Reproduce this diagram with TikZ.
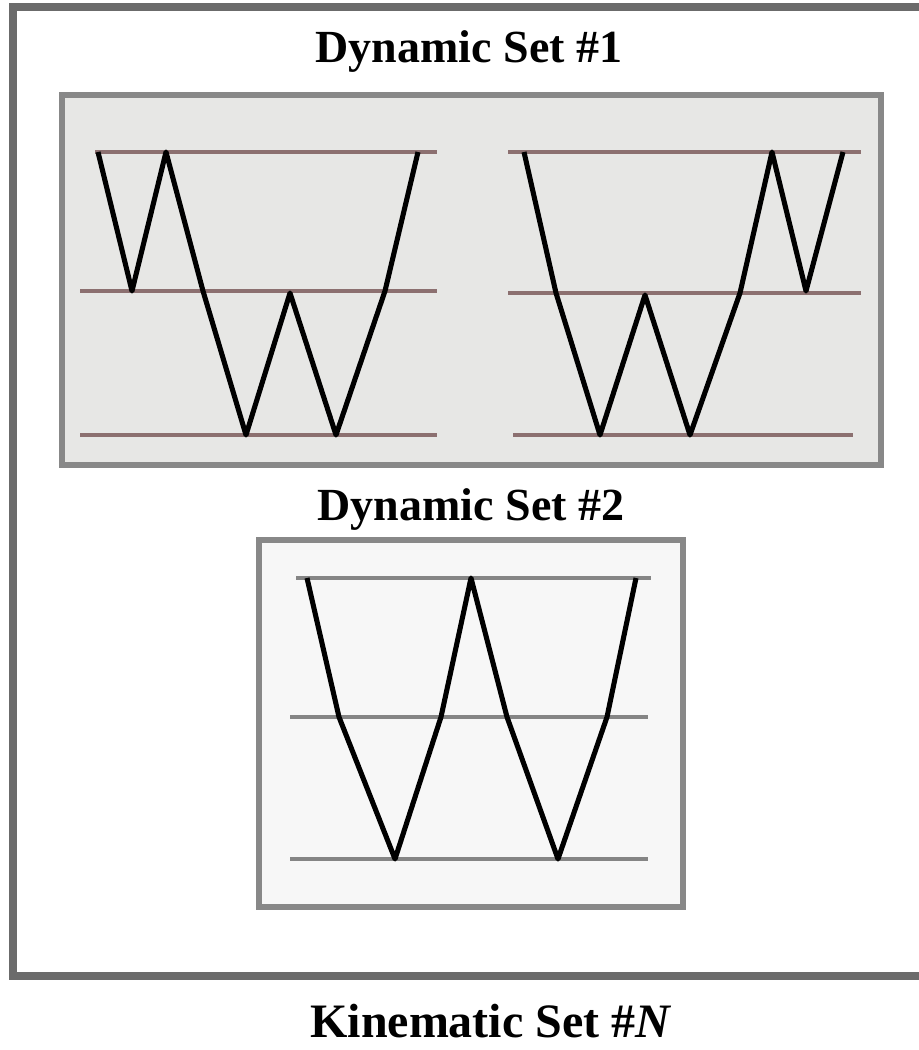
\documentclass[tikz,border=0pt]{standalone}
\usepackage{fontspec}
\setmainfont{Liberation Serif}
\definecolor{frameC}{HTML}{6B6B6B}
\definecolor{boxC}{HTML}{888888}
\definecolor{fillA}{HTML}{E7E7E5}
\definecolor{fillB}{HTML}{F7F7F7}
\definecolor{levA}{HTML}{8C7070}
\definecolor{levB}{HTML}{858585}
\tikzset{
  outerframe/.style={draw=frameC,line width=6pt},
  setbox/.style={draw=boxC,line width=3.8pt},
  levelA/.style={draw=levA,line width=2.3pt},
  levelB/.style={draw=levB,line width=2.3pt},
  trace/.style={draw=black,line width=3.8pt,line join=round},
  title/.style={anchor=base,font=\fontsize{34.5}{40}\selectfont\bfseries,inner sep=0pt},
  bigtitle/.style={anchor=base,font=\fontsize{36}{40}\selectfont\bfseries,inner sep=0pt}
}
\begin{document}
\begin{tikzpicture}[x=0.75pt,y=-0.75pt]
\useasboundingbox (0,0) rectangle (919,1050);
\clip (0,0) rectangle (919,1050);
\fill[white] (0,0) rectangle (919,1050);
% outer frame
\draw[outerframe] (13,7) rectangle (940,976);
% titles
\node[title] (t1) at (469,62) {Dynamic Set \#1};
\node[title] (t2) at (471,520) {Dynamic Set \#2};
\node[bigtitle] (tn) at (491,1037) {Kinematic Set \#\textit{N}};
% Dynamic set 1 box
\draw[setbox,fill=fillA] (62,95) rectangle (881,465);
% left panel levels
\draw[levelA] (95,152) -- (437,152);
\draw[levelA] (80,291) -- (437,291);
\draw[levelA] (80,435) -- (437,435);
% right panel levels
\draw[levelA] (508,152) -- (861,152);
\draw[levelA] (508,293) -- (861,293);
\draw[levelA] (513,435) -- (853,435);
% left trace
\draw[trace] (98,152) -- (132,291) -- (166,152) -- (203,291) -- (246,435) -- (290,293) -- (336,435) -- (385,291) -- (418,152);
% right trace
\draw[trace] (524,152) -- (556,293) -- (600,435) -- (645,295) -- (690,435) -- (740,293) -- (772,152) -- (806,291) -- (843,152);
% Dynamic set 2 box
\draw[setbox,fill=fillB] (259,540) rectangle (683,907);
\draw[levelB] (296,578) -- (651,578);
\draw[levelB] (290,717) -- (648,717);
\draw[levelB] (290,859) -- (648,859);
\draw[trace] (307,578) -- (339,717) -- (395,859) -- (441,717) -- (471,578) -- (507,717) -- (558,859) -- (607,717) -- (636,578);
\end{tikzpicture}
\end{document}
